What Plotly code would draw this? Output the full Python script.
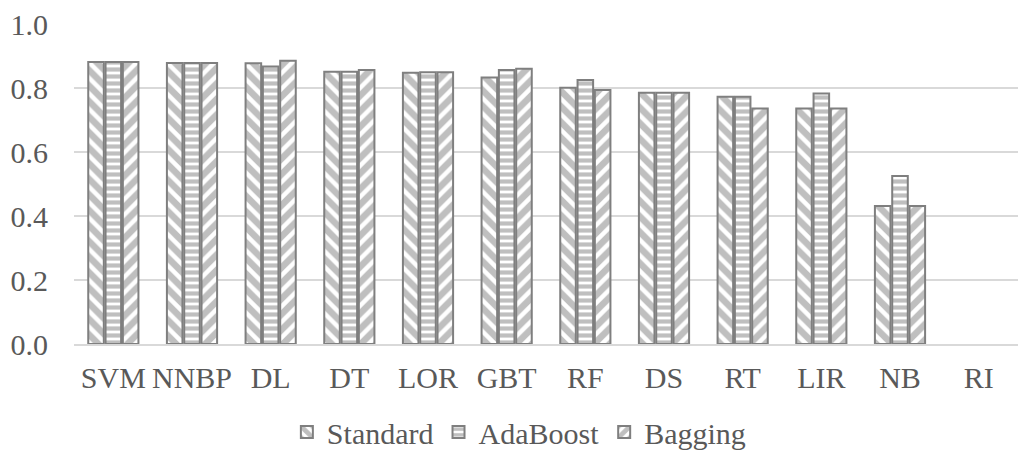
import plotly.graph_objects as go

categories = ["SVM", "NNBP", "DL", "DT", "LOR", "GBT", "RF", "DS", "RT", "LIR", "NB", "RI"]
standard = [0.881, 0.878, 0.877, 0.851, 0.848, 0.833, 0.801, 0.785, 0.773, 0.736, 0.431, None]
adaboost = [0.881, 0.878, 0.867, 0.851, 0.849, 0.856, 0.825, 0.785, 0.773, 0.783, 0.525, None]
bagging = [0.881, 0.878, 0.885, 0.856, 0.849, 0.860, 0.794, 0.785, 0.736, 0.736, 0.431, None]
series_names = ["Standard", "AdaBoost", "Bagging"]
patterns = ["\\", "-", "/"]
pattern_sizes = [11, 7, 11]

GREY = "#7f7f7f"
FONT = "Liberation Serif"
TEXT = "#595959"

fig = go.Figure()
for name, vals, pat, psize in zip(series_names, [standard, adaboost, bagging], patterns, pattern_sizes):
    fig.add_trace(go.Bar(
        name=name, x=categories, y=vals,
        marker=dict(color="white",
                    line=dict(color=GREY, width=2),
                    pattern=dict(shape=pat, fgcolor=GREY, bgcolor="white",
                                 size=psize, solidity=0.6, fillmode="overlay")),
    ))

fig.update_layout(
    width=1022, height=450,
    margin=dict(l=74, r=4, t=24, b=106),
    paper_bgcolor="white", plot_bgcolor="white",
    barmode="group", bargap=0.34, bargroupgap=0.1,
    font=dict(family=FONT, size=30, color=TEXT),
    showlegend=True,
    legend=dict(orientation="h", x=0.2255, xanchor="left",
                yref="container", y=0.04, yanchor="middle",
                font=dict(family=FONT, size=30, color=TEXT),
                itemwidth=30, traceorder="normal"),
    xaxis=dict(showgrid=False, showline=True, linecolor="#d9d9d9", linewidth=1.5,
               ticks="", ticklabelstandoff=6, automargin=False,
               tickfont=dict(family=FONT, size=30, color=TEXT)),
    yaxis=dict(range=[0, 1.0], dtick=0.2, tickformat=".1f", showgrid=True,
               gridcolor="#d9d9d9", gridwidth=1.5, zeroline=False, showline=False,
               ticks="", ticklabelstandoff=25, automargin=False,
               tickfont=dict(family=FONT, size=30, color=TEXT)),
)

fig.write_html("out.html")
